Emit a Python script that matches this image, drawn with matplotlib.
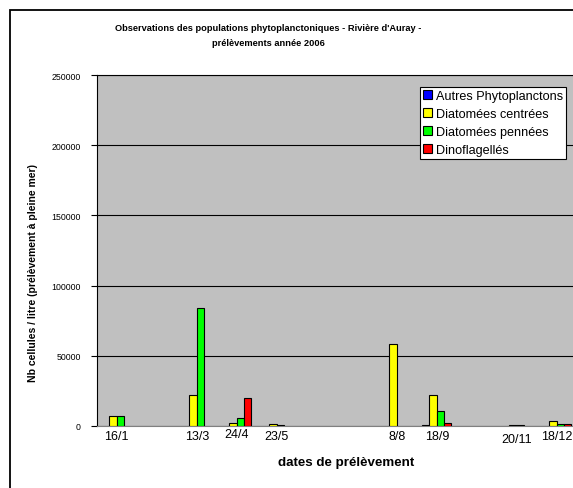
import numpy as np
import matplotlib
matplotlib.use("Agg")
import matplotlib.pyplot as plt
from matplotlib.patches import Rectangle
from matplotlib.transforms import ScaledTranslation

plt.rcParams['font.family'] = ['Liberation Sans', 'DejaVu Sans']

# one category per month, labels only where a sample was taken
dates = ['16/1', '', '13/3', '24/4', '23/5', '', '', '8/8', '18/9', '', '20/11', '18/12']

autres = [0, 0, 0, 0, 0, 0, 0, 0, 400, 0, 0, 0]
diat_centrees = [7000, 0, 22400, 2100, 1400, 0, 0, 58300, 22100, 0, 1000, 3400]
diat_pennees = [7200, 0, 84300, 5900, 600, 0, 0, 0, 10700, 0, 700, 1700]
dinoflag = [0, 0, 0, 19800, 0, 0, 0, 0, 2100, 0, 0, 1700]

series = [autres, diat_centrees, diat_pennees, dinoflag]
noms = ['Autres Phytoplanctons', 'Diatomées centrées', 'Diatomées pennées', 'Dinoflagellés']
couleurs = ['#0000FF', '#FFFF00', '#00FF00', '#FF0000']

fig = plt.figure(figsize=(5.73, 4.89), dpi=100)
ax = fig.add_axes([96.8/573, 1-427/489, 480/573, 351/489])
ax.set_facecolor('#C0C0C0')

x = np.arange(len(dates))
w = 0.183
for i, (vals, nom, c) in enumerate(zip(series, noms, couleurs)):
    v = np.array(vals, dtype=float)
    v[v == 0] = np.nan
    ax.bar(x + (i - 1.5)*w, v, w, color=c, edgecolor='black', linewidth=0.8, label=nom, zorder=3)

ax.set_xlim(-0.5, len(dates) - 0.5)
ax.set_ylim(0, 250000)
ax.set_yticks(np.arange(0, 250001, 50000))
ax.set_yticklabels([str(v) for v in range(0, 250001, 50000)], fontsize=6.3)
ax.tick_params(axis='y', length=4.5, width=0.8, pad=7)
ax.set_xticks(x)
ax.set_xticklabels(dates, fontsize=9)
ax.tick_params(axis='x', length=0, pad=3)
ax.yaxis.grid(True, color='black', linewidth=0.8, zorder=1)
ax.set_axisbelow(True)
ax.spines['right'].set_visible(False)
ax.spines['top'].set_linewidth(0.8)
ax.spines['bottom'].set_color('#808080')
ax.spines['left'].set_linewidth(0.8)

# Excel staggered two of the date labels a little
decal = {'24/4': 2, '20/11': -3}
for lab in ax.get_xticklabels():
    d = decal.get(lab.get_text(), 0)
    if d:
        lab.set_transform(lab.get_transform() + ScaledTranslation(0, d/100, fig.dpi_scale_trans))

ax.set_ylabel("Nb cellules / litre (prélèvement à pleine mer)", fontsize=7.5, fontweight='bold')
ax.yaxis.set_label_coords((38-96.8)/480, (427-273.5)/351)
ax.set_xlabel("dates de prélèvement", fontsize=9.6, fontweight='bold')
ax.xaxis.set_label_coords((346-96.8)/480, (427-457)/351)

fig.text(268.5/573, 1-36/489, "Observations des populations phytoplanctoniques - Rivière d'Auray -\nprélèvements année 2006",
         ha='center', va='center', fontsize=6.7, fontweight='bold', linespacing=1.9)

leg = ax.legend(loc='upper right', bbox_to_anchor=(0.978, 0.966), fontsize=9.1, frameon=True, fancybox=False,
                edgecolor='black', framealpha=1, borderpad=0.25, labelspacing=0.48, handlelength=0.7,
                handleheight=0.7, handletextpad=0.3, borderaxespad=0)
leg.get_frame().set_linewidth(0.8)

fig.patches.append(Rectangle((10/573, -0.1), 1.2, 1.1 - 11/489, transform=fig.transFigure,
                             fill=False, edgecolor='black', linewidth=1.3))

fig.savefig('out.png', dpi=100)
